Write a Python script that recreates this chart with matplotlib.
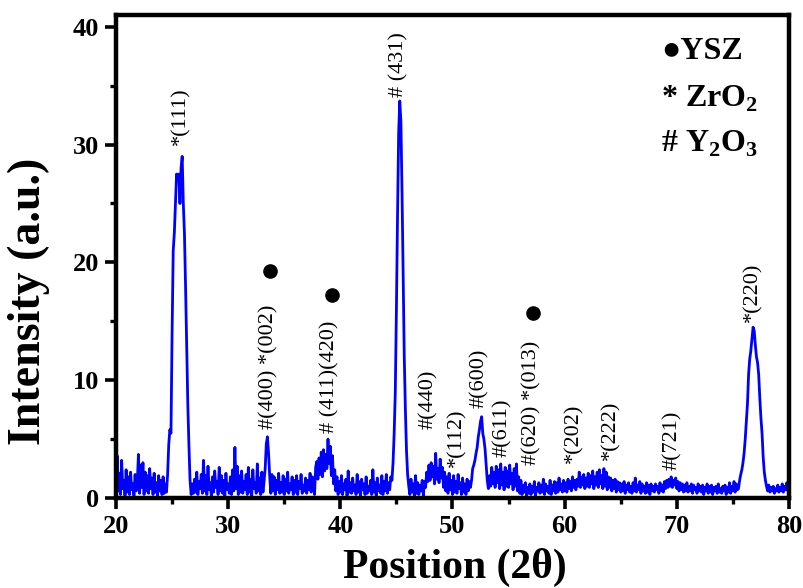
#!/usr/bin/env python3
"""XRD pattern of the YSZ / ZrO2 / Y2O3 sample."""

import numpy as np
import matplotlib

matplotlib.use("Agg")
import matplotlib.pyplot as plt
from matplotlib.ticker import MultipleLocator

plt.rcParams["font.family"] = ["Liberation Serif", "DejaVu Serif"]
plt.rcParams["mathtext.fontset"] = "custom"
plt.rcParams["mathtext.rm"] = "Liberation Serif:bold"
plt.rcParams["mathtext.bf"] = "Liberation Serif:bold"

# 2-theta grid: 20.0 .. 80.0 in 0.1 deg steps
theta_start = 20.0
theta_step = 0.1

# intensity, one row per degree (x.0 .. x.9)
intensity_rows = [
    [0.4, 3.6, 0.6, 2.1, 0.3, 3.2, 0.8, 1.5, 0.2, 2.4],   # 20
    [0.5, 1.8, 0.3, 2.2, 0.7, 1.2, 0.2, 2.0, 0.6, 1.4],   # 21
    [3.7, 0.4, 2.8, 0.9, 3.0, 0.3, 2.2, 0.6, 1.9, 0.4],   # 22
    [2.5, 0.8, 1.7, 0.3, 2.1, 0.5, 1.3, 0.2, 1.9, 0.6],   # 23
    [1.5, 0.3, 1.8, 0.4, 1.2, 0.5, 2.0, 4.5, 5.8, 5.5],   # 24
    [14.0, 21.0, 22.5, 25.0, 27.5, 27.0, 27.5, 25.0, 28.0, 29.0],  # 25
    [25.0, 22.5, 18.0, 13.0, 8.0, 4.5, 1.5, 0.3, 1.2, 0.4],        # 26
    [1.6, 0.5, 2.2, 0.3, 1.4, 0.8, 2.0, 0.4, 3.2, 0.6],   # 27
    [1.9, 0.3, 2.7, 0.7, 1.3, 0.2, 1.8, 0.5, 2.3, 0.9],   # 28
    [1.4, 0.3, 2.6, 0.6, 1.9, 0.4, 1.5, 0.2, 2.1, 0.7],   # 29
    [1.2, 0.4, 1.8, 0.3, 2.4, 0.6, 4.3, 0.8, 2.7, 0.3],   # 30
    [1.9, 0.5, 2.3, 0.4, 1.4, 0.7, 2.0, 0.3, 2.6, 0.5],   # 31
    [1.6, 0.2, 2.4, 0.8, 1.3, 0.4, 2.9, 0.6, 1.7, 0.3],   # 32
    [2.2, 0.5, 1.4, 2.5, 4.6, 5.2, 3.8, 1.9, 0.4, 2.0],   # 33
    [0.6, 1.8, 0.3, 1.5, 0.7, 2.1, 0.4, 1.3, 0.5, 1.9],   # 34
    [0.3, 1.6, 0.6, 2.2, 0.4, 1.2, 0.7, 1.8, 0.3, 1.5],   # 35
    [0.5, 1.9, 0.3, 1.4, 0.8, 2.0, 0.4, 1.1, 0.6, 1.7],   # 36
    [0.4, 1.5, 0.7, 2.1, 0.5, 1.8, 1.2, 0.3, 2.6, 3.1],   # 37
    [1.6, 3.4, 2.0, 3.9, 1.8, 4.1, 2.3, 3.7, 2.5, 5.0],   # 38
    [2.9, 4.4, 1.9, 3.6, 1.2, 2.4, 0.6, 1.8, 0.3, 1.4],   # 39
    [0.5, 1.9, 0.3, 1.2, 0.7, 1.6, 0.2, 2.3, 0.5, 1.3],   # 40
    [0.4, 1.7, 0.6, 1.1, 0.3, 2.0, 0.5, 1.4, 0.2, 1.6],   # 41
    [0.7, 1.2, 0.3, 1.8, 0.4, 1.0, 0.6, 1.5, 0.3, 2.4],   # 42
    [0.5, 1.3, 0.2, 1.7, 0.6, 1.1, 0.4, 1.9, 0.3, 1.4],   # 43
    [0.6, 2.0, 0.4, 1.3, 0.7, 1.8, 1.5, 3.0, 5.5, 9.0],   # 44
    [16.0, 24.0, 31.0, 33.7, 32.0, 26.0, 19.0, 12.0, 7.5, 4.0],    # 45
    [2.0, 1.0, 0.3, 1.6, 0.5, 1.2, 0.2, 1.9, 0.4, 1.3],   # 46
    [0.3, 1.1, 0.6, 1.5, 0.2, 1.4, 0.9, 2.2, 1.4, 2.8],   # 47
    [1.5, 3.0, 1.8, 2.7, 1.2, 3.8, 1.6, 2.5, 1.3, 3.3],   # 48
    [1.7, 2.6, 0.9, 2.2, 0.6, 1.8, 0.4, 2.1, 0.7, 1.5],   # 49
    [0.3, 1.9, 0.5, 1.4, 0.4, 2.0, 0.8, 1.3, 0.3, 1.7],   # 50
    [0.5, 1.2, 0.3, 1.6, 0.6, 1.4, 0.9, 1.5, 2.5, 2.8],   # 51
    [3.2, 3.8, 4.3, 5.2, 5.8, 6.5, 6.9, 5.5, 5.0, 4.2],   # 52
    [2.8, 1.5, 0.8, 1.9, 1.0, 2.6, 1.2, 2.2, 0.9, 2.7],   # 53
    [1.3, 2.4, 0.8, 2.9, 1.1, 2.2, 0.7, 2.6, 1.0, 2.3],   # 54
    [0.9, 2.8, 1.2, 2.1, 0.7, 2.5, 1.0, 2.9, 0.6, 1.8],   # 55
    [0.4, 1.5, 0.3, 1.1, 0.5, 1.3, 0.2, 0.9, 0.4, 1.2],   # 56
    [0.3, 1.0, 0.5, 1.4, 0.2, 0.9, 0.6, 1.3, 0.4, 1.1],   # 57
    [0.5, 1.6, 0.3, 1.2, 0.6, 1.0, 0.4, 1.5, 0.3, 1.1],   # 58
    [0.6, 1.4, 0.4, 1.3, 0.5, 1.7, 0.7, 1.2, 0.5, 1.5],   # 59
    [0.6, 1.3, 0.5, 1.6, 0.8, 1.4, 0.6, 1.8, 0.9, 1.5],   # 60
    [0.7, 1.6, 1.0, 2.2, 0.9, 1.8, 1.1, 2.0, 0.8, 1.7],   # 61
    [1.0, 2.1, 0.9, 1.9, 1.2, 2.3, 0.8, 1.8, 1.1, 2.2],   # 62
    [0.9, 2.4, 1.2, 1.9, 0.8, 2.5, 1.0, 2.2, 0.7, 1.8],   # 63
    [0.9, 1.7, 0.6, 1.5, 0.8, 1.6, 0.5, 1.4, 0.7, 1.3],   # 64
    [0.5, 1.2, 0.6, 1.4, 0.4, 1.1, 0.7, 1.3, 0.5, 1.0],   # 65
    [0.4, 1.3, 0.6, 1.7, 0.5, 1.1, 0.7, 1.4, 0.4, 1.2],   # 66
    [0.6, 1.0, 0.4, 1.3, 0.5, 1.1, 0.3, 1.2, 0.6, 1.0],   # 67
    [0.5, 1.2, 0.7, 1.0, 0.4, 1.3, 0.6, 1.1, 0.5, 1.4],   # 68
    [0.8, 1.5, 0.9, 1.6, 1.0, 1.8, 0.9, 1.5, 1.1, 1.7],   # 69
    [0.8, 1.4, 0.6, 1.3, 0.7, 1.2, 0.5, 1.1, 0.6, 1.3],   # 70
    [0.5, 1.0, 0.6, 1.2, 0.4, 1.1, 0.7, 0.9, 0.4, 1.2],   # 71
    [0.6, 1.0, 0.5, 1.1, 0.3, 0.9, 0.6, 1.2, 0.4, 1.0],   # 72
    [0.5, 1.1, 0.3, 0.9, 0.6, 1.0, 0.4, 1.2, 0.5, 0.8],   # 73
    [0.4, 1.0, 0.6, 1.1, 0.3, 0.9, 0.5, 1.3, 0.4, 1.0],   # 74
    [0.6, 1.4, 0.5, 1.2, 0.7, 0.8, 1.5, 2.0, 2.4, 3.0],   # 75
    [3.8, 5.0, 6.5, 8.0, 10.5, 11.8, 12.5, 13.5, 14.5, 14.2],      # 76
    [13.0, 12.0, 11.5, 10.5, 8.5, 6.8, 5.5, 3.5, 2.2, 1.5],        # 77
    [1.0, 0.6, 1.1, 0.5, 0.9, 0.6, 1.0, 0.4, 0.8, 0.6],   # 78
    [1.1, 0.5, 0.9, 0.6, 1.2, 0.5, 1.0, 0.7, 1.3, 0.6],   # 79
    [1.0],                                                # 80
]

# peak annotations: text, 2theta, intensity at text bottom
peak_labels = ["*(111)", "#(400) *(002)", "# (411)(420)", "# (431)", "#(440)",
               "*(112)", "#(600)", "#(611)", "#(620) *(013)", "*(202)",
               "*(222)", "#(721)", "*(220)"]
peak_x = [25.8, 33.6, 39.1, 45.2, 47.85, 50.4, 52.4, 54.5, 57.1, 60.8,
          64.1, 69.6, 76.8]
peak_y = [30.0, 5.9, 5.5, 34.0, 5.9, 2.6, 7.6, 3.5, 2.8, 3.0,
          3.2, 2.4, 14.9]

# YSZ dots above labels
ysz_x = [33.75, 39.25, 57.2]
ysz_y = [19.3, 17.2, 15.7]

legend_text = ["\u25cfYSZ", "* ZrO$_\\mathbf{2}$", "# Y$_\\mathbf{2}$O$_\\mathbf{3}$"]
legend_y = [37.3, 33.2, 29.4]


def main() -> None:
    intensity = np.array([v for row in intensity_rows for v in row])
    two_theta = theta_start + theta_step * np.arange(len(intensity))

    fig = plt.figure(figsize=(8.04, 5.88), dpi=100)
    ax = fig.add_axes([0.1443, 0.153, 0.837, 0.8215])

    ax.plot(two_theta, intensity, color="#0000ff", linewidth=2.0)

    for txt, x, y in zip(peak_labels, peak_x, peak_y):
        ax.text(x, y, txt, rotation=90, ha="center", va="bottom",
                fontsize=16, color="black")
    ax.plot(ysz_x, ysz_y, "o", color="black", markersize=9.5)

    for txt, y in zip(legend_text, legend_y):
        ax.text(68.6, y, txt, ha="left", va="baseline", fontsize=23,
                fontweight="bold")

    ax.set_xlim(20, 80)
    ax.set_ylim(0, 41)
    ax.xaxis.set_major_locator(MultipleLocator(10))
    ax.xaxis.set_minor_locator(MultipleLocator(5))
    ax.yaxis.set_major_locator(MultipleLocator(10))
    ax.yaxis.set_minor_locator(MultipleLocator(5))
    ax.tick_params(which="major", direction="out", length=8, width=2.6,
                   pad=4, labelsize=19)
    ax.tick_params(which="minor", direction="out", length=4.5, width=2.4)
    for lab in ax.get_xticklabels() + ax.get_yticklabels():
        lab.set_fontweight("bold")
    for spine in ax.spines.values():
        spine.set_linewidth(3.2)

    ax.set_xlabel("Position (2\u03b8)", fontsize=30, fontweight="bold")
    ax.set_ylabel("Intensity (a.u.)", fontsize=33, fontweight="bold")
    ax.xaxis.set_label_coords(0.504, -0.103)
    ax.yaxis.set_label_coords(-0.098, 0.408)

    fig.savefig("out.png", dpi=100)
    plt.close(fig)


if __name__ == "__main__":
    main()
